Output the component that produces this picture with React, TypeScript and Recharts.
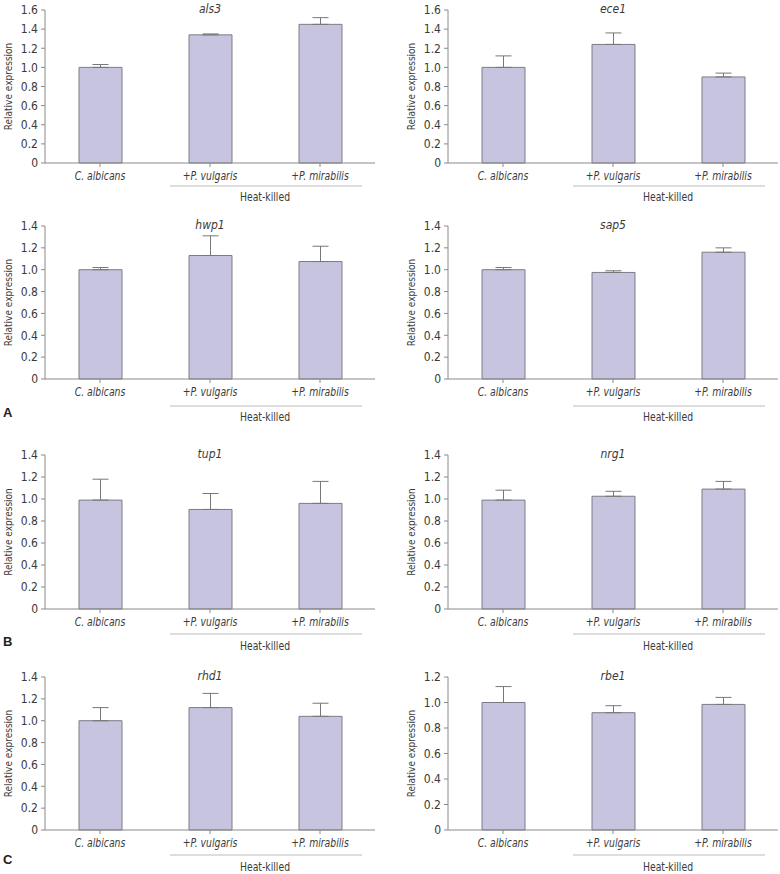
import React from 'react';
import { BarChart, Bar, XAxis, YAxis, ErrorBar } from 'recharts';

const groups = ['C. albicans', '+P. vulgaris', '+P. mirabilis'];

const als3Mean = [1.0, 1.34, 1.45];
const als3Err = [0.03, 0.01, 0.07];
const ece1Mean = [1.0, 1.24, 0.9];
const ece1Err = [0.12, 0.12, 0.04];
const hwp1Mean = [1.0, 1.13, 1.075];
const hwp1Err = [0.02, 0.18, 0.14];
const sap5Mean = [1.0, 0.975, 1.16];
const sap5Err = [0.02, 0.015, 0.04];
const tup1Mean = [0.99, 0.905, 0.96];
const tup1Err = [0.19, 0.145, 0.2];
const nrg1Mean = [0.99, 1.025, 1.09];
const nrg1Err = [0.09, 0.045, 0.07];
const rhd1Mean = [1.0, 1.12, 1.04];
const rhd1Err = [0.12, 0.13, 0.12];
const rbe1Mean = [1.0, 0.92, 0.985];
const rbe1Err = [0.125, 0.055, 0.055];

const ticks16 = [0, 0.2, 0.4, 0.6, 0.8, 1.0, 1.2, 1.4, 1.6];
const ticks14 = [0, 0.2, 0.4, 0.6, 0.8, 1.0, 1.2, 1.4];
const ticks12 = [0, 0.2, 0.4, 0.6, 0.8, 1.0, 1.2];

const FONT = "'Liberation Sans Narrow', 'DejaVu Sans Condensed', 'Roboto', sans-serif";
const TEXT = '#3a3a3a';
const AXIS = '#8a8a8a';

const rows = (mean: number[], err: number[]) =>
  groups.map((name, i) => ({ name, mean: mean[i], err: [0, err[i]] }));

// narrow-looking labels: squeeze the text a bit horizontally
const SQ = 'scale(0.86,1)';

const GroupTick = (props: any) => {
  const { x, y, payload, index, lineDy, heatDy } = props;
  return (
    <g transform={`translate(${x},${y})`}>
      <text transform={SQ} x={0} y={11} textAnchor="middle" fontStyle="italic" fontSize={12} fill={TEXT} fontFamily={FONT}>
        {payload.value}
      </text>
      {index === 1 && <line x1={-40} x2={55} y1={lineDy} y2={lineDy} stroke="#bdbdbd" strokeWidth={1.2} />}
      {index === 2 && <line x1={-55} x2={42} y1={lineDy} y2={lineDy} stroke="#bdbdbd" strokeWidth={1.2} />}
      {index === 1 && (
        <g transform={`translate(55,${heatDy})`}>
          <text transform={SQ} x={0} y={0} textAnchor="middle" fontSize={12} fill={TEXT} fontFamily={FONT}>
            Heat-killed
          </text>
        </g>
      )}
    </g>
  );
};

type PanelProps = {
  gene: string;
  data: any[];
  ticks: number[];
  left: number;
  top: number;
  plotH: number;
  axisW: number;
  rightM: number;
  labelX: number;
  lineDy: number;
  heatDy: number;
};

const Panel = ({ gene, data, ticks, left, top, plotH, axisW, rightM, labelX, lineDy, heatDy }: PanelProps) => {
  const plotW = 390 - axisW - rightM;
  return (
    <div style={{ position: 'absolute', left, top, width: 390, height: 10 + plotH + 44 }}>
      <BarChart width={390} height={10 + plotH + 44} data={data} margin={{ top: 10, right: rightM, bottom: 0, left: 0 }}>
        <XAxis
          dataKey="name"
          height={44}
          interval={0}
          stroke={AXIS}
          tickSize={4}
          tickMargin={2}
          tick={<GroupTick lineDy={lineDy - 6} heatDy={heatDy - 6} />}
        />
        <YAxis
          width={axisW}
          domain={[0, ticks[ticks.length - 1]]}
          ticks={ticks}
          interval={0}
          stroke={AXIS}
          tickSize={4}
          tickMargin={3}
          tickFormatter={(v: number) => (v === 0 ? '0' : v.toFixed(1))}
          tick={{ fontSize: 12, fill: TEXT, fontFamily: FONT }}
          label={{
            value: 'Relative expression',
            angle: -90,
            position: 'insideLeft',
            offset: labelX,
            style: { textAnchor: 'middle', fontSize: 10, fill: TEXT, fontFamily: FONT },
          }}
        />
        <Bar dataKey="mean" fill="#c6c4de" stroke="#7c7c88" strokeWidth={1} barSize={43} isAnimationActive={false}>
          <ErrorBar dataKey="err" direction="y" width={8} stroke="#777" strokeWidth={1} isAnimationActive={false} />
        </Bar>
      </BarChart>
      <div
        style={{
          position: 'absolute',
          left: axisW + plotW / 2 - 50,
          top: 10 - 8,
          width: 100,
          textAlign: 'center',
          fontFamily: FONT,
          fontSize: 12,
          lineHeight: '14px',
          fontStyle: 'italic',
          color: TEXT,
        }}
      >
        {gene}
      </div>
    </div>
  );
};

const Letter = ({ ch, top }: { ch: string; top: number }) => (
  <div
    style={{
      position: 'absolute',
      left: 3,
      top,
      fontFamily: "'Liberation Sans', Arial, sans-serif",
      fontWeight: 'bold',
      fontSize: 13,
      lineHeight: '14px',
      color: '#222',
    }}
  >
    {ch}
  </div>
);

export default function App() {
  const L = { left: 0, axisW: 45, rightM: 15, labelX: 8 };
  const R = { left: 390, axisW: 58, rightM: 2, labelX: 21 };
  return (
    <div style={{ position: 'absolute', left: 0, top: 0, width: 780, height: 874, background: '#fff', overflow: 'hidden' }}>
      <Panel gene="als3" data={rows(als3Mean, als3Err)} ticks={ticks16} top={0} plotH={153} lineDy={23} heatDy={38} {...L} />
      <Panel gene="ece1" data={rows(ece1Mean, ece1Err)} ticks={ticks16} top={0} plotH={153} lineDy={23} heatDy={38} {...R} />
      <Panel gene="hwp1" data={rows(hwp1Mean, hwp1Err)} ticks={ticks14} top={216} plotH={153} lineDy={27} heatDy={42} {...L} />
      <Panel gene="sap5" data={rows(sap5Mean, sap5Err)} ticks={ticks14} top={216} plotH={153} lineDy={27} heatDy={42} {...R} />
      <Panel gene="tup1" data={rows(tup1Mean, tup1Err)} ticks={ticks14} top={445} plotH={154} lineDy={25} heatDy={41} {...L} />
      <Panel gene="nrg1" data={rows(nrg1Mean, nrg1Err)} ticks={ticks14} top={445} plotH={154} lineDy={25} heatDy={41} {...R} />
      <Panel gene="rhd1" data={rows(rhd1Mean, rhd1Err)} ticks={ticks14} top={667} plotH={153} lineDy={25} heatDy={41} {...L} />
      <Panel gene="rbe1" data={rows(rbe1Mean, rbe1Err)} ticks={ticks12} top={667} plotH={153} lineDy={25} heatDy={41} {...R} />
      <Letter ch="A" top={406} />
      <Letter ch="B" top={635} />
      <Letter ch="C" top={853} />
    </div>
  );
}
